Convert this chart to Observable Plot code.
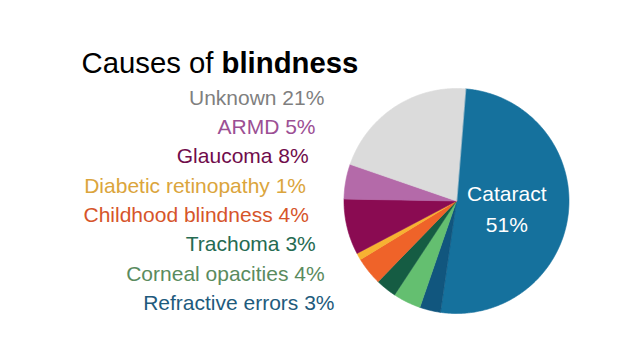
<!DOCTYPE html>
<html>
<head>
<meta charset="utf-8">
<script src="https://cdn.jsdelivr.net/npm/d3@7"></script>
<script src="https://cdn.jsdelivr.net/npm/@observablehq/plot@0.6"></script>
<style>
  html, body { margin: 0; padding: 0; background: #ffffff; }
  body { width: 638px; height: 359px; overflow: hidden; font-family: "Liberation Sans", Arial, Helvetica, sans-serif; }
  #title { padding-top: 42px; padding-left: 81.5px; height: 42px; line-height: 42px; font-size: 29.3px; color: #000; white-space: nowrap; }
  #title b { font-weight: bold; }
  #chart svg { display: block; }
</style>
</head>
<body>
<div id="title">Causes of <b>blindness</b></div>
<div id="chart"></div>
<script>
// ---- data ----
const causes = ["Cataract", "Refractive errors", "Corneal opacities", "Trachoma", "Childhood blindness", "Diabetic retinopathy", "Glaucoma", "ARMD", "Unknown"];
const shares = [51, 3, 4, 3, 4, 1, 8, 5, 21];
const sliceColors = ["#15719d", "#11567e", "#64bf70", "#155c43", "#ef6329", "#f7b232", "#8a0b52", "#b46aa9", "#dbdbdb"];
// side labels, top to bottom
const labelCauses = ["Unknown", "ARMD", "Glaucoma", "Diabetic retinopathy", "Childhood blindness", "Trachoma", "Corneal opacities", "Refractive errors"];
const labelColors = ["#7f7f7f", "#9c4f94", "#700c4b", "#dba53c", "#d6552a", "#266b52", "#5a8b5e", "#1e5b7d"];

// ---- layout ----
const total = d3.sum(shares);
const startAngle = 4.6 * Math.PI / 180; // clockwise from 12 o'clock
const R_PX = 112.5;

const slicePts = [];
const mids = {};
let cum = 0;
causes.forEach((c, i) => {
  const a0 = startAngle + (cum / total) * 2 * Math.PI;
  cum += shares[i];
  const a1 = startAngle + (cum / total) * 2 * Math.PI;
  mids[c] = (a0 + a1) / 2;
  const n = Math.max(2, Math.ceil((a1 - a0) / 0.01));
  slicePts.push({cause: c, x: 0, y: 0});
  for (let k = 0; k <= n; k++) {
    const a = a0 + (a1 - a0) * k / n;
    slicePts.push({cause: c, x: Math.sin(a), y: Math.cos(a)});
  }
});

// inner label of the largest slice
const cat = causes[0];
const innerLabel = [{
  x: 0.45 * Math.sin(mids[cat]),
  y: 0.45 * Math.cos(mids[cat]),
  text: `${cat}\n${shares[0]}%`
}];

// side labels follow a gentle curve around the left side of the pie
function labelPos(i) {
  const dy = -103 + 29.3 * i;           // px below pie centre
  const d = dy + 15.5;
  const dx = -150.5 + Math.hypot(21.65, 0.385 * d) - 21.65;
  return {x: dx / R_PX, y: -dy / R_PX};
}
const sideLabels = labelCauses.map((c, i) => ({
  ...labelPos(i),
  text: `${c} ${shares[causes.indexOf(c)]}%`,
  color: labelColors[i]
}));

const font = "'Liberation Sans', Arial, Helvetica, sans-serif";

const chart = Plot.plot({
  width: 638,
  height: 275,
  margin: 0,
  style: {fontFamily: font, background: "#ffffff", overflow: "visible"},
  x: {domain: [-1, 1], range: [343.5, 568.5], axis: null},
  y: {domain: [-1, 1], range: [229, 4], axis: null},
  color: {domain: causes, range: sliceColors},
  marks: [
    Plot.line(slicePts, {x: "x", y: "y", z: "cause", fill: "cause", stroke: "cause", strokeWidth: 0.6, curve: "linear-closed"}),
    Plot.text(innerLabel, {x: "x", y: "y", text: "text", fill: "#ffffff", fontSize: 21, lineHeight: 1.5, textAnchor: "middle"}),
    ...sideLabels.map(d => Plot.text([d], {x: "x", y: "y", text: "text", fill: d.color, fontSize: 21, textAnchor: "end"}))
  ]
});
document.getElementById("chart").appendChild(chart);
</script>
</body>
</html>
